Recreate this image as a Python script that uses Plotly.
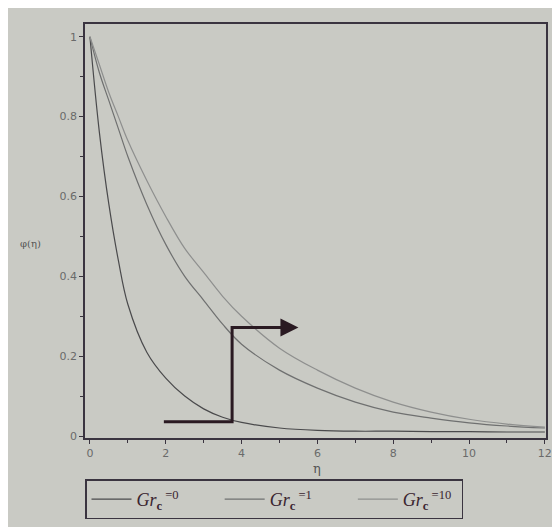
import plotly.graph_objects as go

# concentration profiles phi(eta)
eta = [0, 0.25, 0.5, 0.75, 1, 1.5, 2, 2.5, 3, 3.5, 4, 5, 6, 7, 8, 9, 10, 11, 12]
phi_gr0 = [1.0, 0.76, 0.58, 0.44, 0.33, 0.21, 0.145, 0.10, 0.068, 0.047, 0.034,
           0.02, 0.014, 0.012, 0.012, 0.011, 0.011, 0.01, 0.01]
phi_gr1 = [1.0, 0.91, 0.84, 0.77, 0.70, 0.58, 0.48, 0.40, 0.34, 0.28, 0.23,
           0.165, 0.12, 0.085, 0.06, 0.045, 0.033, 0.025, 0.02]
phi_gr10 = [1.0, 0.93, 0.86, 0.80, 0.74, 0.64, 0.55, 0.47, 0.41, 0.35, 0.30,
            0.22, 0.165, 0.12, 0.085, 0.06, 0.042, 0.03, 0.022]

pad = "&nbsp;" * 8
series_names = ["<i>Gr</i><sub><b>c</b></sub><sup> =0</sup>" + pad,
                "<i>Gr</i><sub><b>c</b></sub><sup> =1</sup>" + pad,
                "<i>Gr</i><sub><b>c</b></sub><sup> =10</sup>&nbsp;"]
line_colors = ["#4a4a4c", "#6f7070", "#8e8f8e"]

# arrow drawn on the plot (increasing Gr_c)
arrow_x = [1.95, 3.75, 3.75, 5.5]
arrow_y = [0.036, 0.036, 0.272, 0.272]

bg = "#c9cac4"

fig = go.Figure()
for ys, name, col in zip([phi_gr0, phi_gr1, phi_gr10], series_names, line_colors):
    fig.add_trace(go.Scatter(x=eta, y=ys, mode="lines", name=name,
                             line=dict(color=col, width=1.2, shape="spline")))

fig.add_shape(type="path",
              path=f"M {arrow_x[0]},{arrow_y[0]} L {arrow_x[1]},{arrow_y[1]} "
                   f"L {arrow_x[2]},{arrow_y[2]} L {arrow_x[3] - 0.3},{arrow_y[3]}",
              line=dict(color="#2a1a22", width=3), xref="x", yref="y")
fig.add_annotation(x=arrow_x[3], y=arrow_y[3], ax=arrow_x[3] - 0.35, ay=arrow_y[3],
                   xref="x", yref="y", axref="x", ayref="y", text="",
                   showarrow=True, arrowhead=2, arrowsize=1.2, arrowwidth=3,
                   arrowcolor="#2a1a22")

fig.add_annotation(text="η", x=0.503, y=-0.074, xref="paper", yref="paper",
                   yanchor="middle", showarrow=False,
                   font=dict(family="DejaVu Serif", size=13, color="#555"))
fig.add_annotation(text="φ(η)", x=-0.145, y=0.47, xref="paper", yref="paper",
                   showarrow=False, font=dict(family="DejaVu Serif", size=10, color="#555"))

axis_common = dict(showgrid=False, zeroline=False, showline=True, mirror=True,
                   linecolor="#3a3440", linewidth=1.5, ticks="outside", ticklen=4,
                   tickcolor="#3a3440",
                   tickfont=dict(family="DejaVu Sans", size=11, color="#6a6a6a"))

fig.update_xaxes(range=[-0.13, 12.03], tickvals=[0, 2, 4, 6, 8, 10, 12],
                 minor=dict(ticks="outside", ticklen=3, dtick=1, tickcolor="#3a3440"),
                 **axis_common)
fig.update_yaxes(range=[-0.005, 1.032], tickvals=[0, 0.2, 0.4, 0.6, 0.8, 1],
                 ticktext=["0", "0.2", "0.4", "0.6", "0.8", "1"],
                 minor=dict(ticks="outside", ticklen=3, dtick=0.1, tickcolor="#3a3440"),
                 **axis_common)

fig.update_layout(
    width=552, height=519,
    margin=dict(l=77, r=8, t=16, b=84),
    paper_bgcolor=bg, plot_bgcolor=bg,
    legend=dict(orientation="h", x=0, xanchor="left", y=-0.1, yanchor="top",
                bordercolor="#3a3440", borderwidth=1.5, bgcolor=bg,
                font=dict(family="Liberation Serif", size=18, color="#3a2530"),
                itemwidth=40, tracegroupgap=0),
)

fig.write_html("out.html")
